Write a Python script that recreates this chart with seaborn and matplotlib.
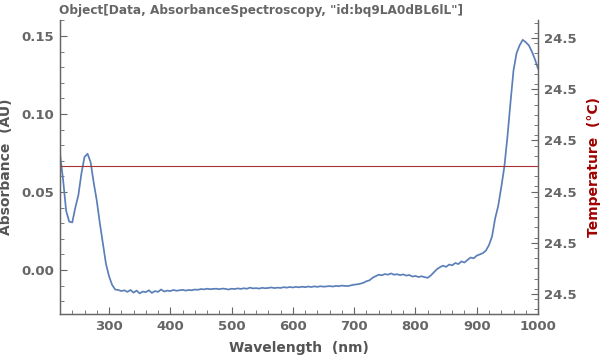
import numpy as np
import pandas as pd
import matplotlib
matplotlib.use("Agg")
import matplotlib.pyplot as plt
import seaborn as sns
from matplotlib.ticker import MultipleLocator, FixedLocator, FormatStrFormatter

wavelength = list(range(220, 1001, 5))
absorbance = [
    0.0745, 0.058, 0.038, 0.031, 0.0305, 0.040, 0.048, 0.062, 0.0725, 0.0745,
    0.069, 0.056, 0.0445, 0.030, 0.017, 0.004, -0.004, -0.0095, -0.0125, -0.0128,
    -0.0135, -0.0130, -0.0140, -0.0128, -0.0145, -0.0132, -0.0150, -0.0138, -0.0142, -0.0130,
    -0.0147, -0.0135, -0.0140, -0.0125, -0.0138, -0.0132, -0.0135, -0.0128, -0.0133, -0.0130,
    -0.0127, -0.0132, -0.0128, -0.0130, -0.0125, -0.0127, -0.0122, -0.0124, -0.0120, -0.0123,
    -0.0121, -0.0120, -0.0123, -0.0119, -0.0121, -0.0125, -0.0120, -0.0122, -0.0118, -0.0121,
    -0.0117, -0.0120, -0.0113, -0.0118, -0.0116, -0.0119, -0.0114, -0.0117, -0.0115, -0.0112,
    -0.0116, -0.0113, -0.0115, -0.0110, -0.0113, -0.0109, -0.0112, -0.0108, -0.0111, -0.0107,
    -0.0110, -0.0106, -0.0109, -0.0105, -0.0108, -0.0104, -0.0107, -0.0105, -0.0103, -0.0106,
    -0.0102, -0.0104, -0.0100, -0.0102, -0.0103, -0.0098, -0.0094, -0.0092, -0.0088, -0.0082,
    -0.0072, -0.0066, -0.0050, -0.0040, -0.0030, -0.0034, -0.0026, -0.0030, -0.0022, -0.0030,
    -0.0027, -0.0033, -0.0028, -0.0036, -0.0032, -0.0042, -0.0038, -0.0045, -0.0040, -0.0046,
    -0.0050, -0.0035, -0.0015, 0.0005, 0.0018, 0.0028, 0.0020, 0.0035, 0.0030, 0.0045,
    0.0038, 0.0055, 0.0048, 0.0065, 0.0080, 0.0075, 0.0092, 0.0100, 0.0108, 0.0125,
    0.0160, 0.0215, 0.0330, 0.0410, 0.0530, 0.0660, 0.0850, 0.1070, 0.1280, 0.1390,
    0.1440, 0.1475, 0.1460, 0.1440, 0.1400, 0.1350, 0.1290,
]
temp_wavelength = [220, 1000]
temperature = [24.5, 24.5]

title = 'Object[Data, AbsorbanceSpectroscopy, "id:bq9LA0dBL6lL"]'
x_label = "Wavelength  (nm)"
y_label = "Absorbance  (AU)"
y2_label = "Temperature  (°C)"
x_ticks = [300, 400, 500, 600, 700, 800, 900, 1000]
y_ticks = [0.00, 0.05, 0.10, 0.15]
y2_ticks = [24.49975, 24.49985, 24.49995, 24.50005, 24.50015, 24.50025]

sns.set_style("white")
plt.rcParams["font.family"] = ["DejaVu Sans"]

df = pd.DataFrame({"wl": wavelength, "abs": absorbance})
dft = pd.DataFrame({"wl": temp_wavelength, "t": temperature})

fig = plt.figure(figsize=(6.0, 3.58), dpi=100)
ax = fig.add_axes([0.1, 0.1229, 0.7967, 0.8211])
ax2 = ax.twinx()

sns.lineplot(data=df, x="wl", y="abs", ax=ax, color="#5B7FB8", linewidth=1.25)
sns.lineplot(data=dft, x="wl", y="t", ax=ax2, color="#A83232", linewidth=0.8)

ax.set_xlim(220, 1000)
ax.set_ylim(-0.0282, 0.1602)
ax2.set_ylim(24.499711, 24.500285)

tick_color = "#666666"
spine_color = "#666666"
for a in (ax, ax2):
    for s in a.spines.values():
        s.set_color(spine_color)
        s.set_linewidth(0.9)
    a.spines["top"].set_visible(False)

ax.xaxis.set_major_locator(FixedLocator(x_ticks))
ax.xaxis.set_minor_locator(MultipleLocator(20))
ax.yaxis.set_major_locator(FixedLocator(y_ticks))
ax.yaxis.set_minor_locator(MultipleLocator(0.01))
ax.yaxis.set_major_formatter(FormatStrFormatter("%.2f"))
ax2.yaxis.set_major_locator(FixedLocator(y2_ticks))
ax2.yaxis.set_minor_locator(MultipleLocator(0.00002))
ax2.yaxis.set_major_formatter(FormatStrFormatter("%.1f"))

ax.tick_params(axis="both", which="major", direction="in", length=5, width=0.8,
               color=spine_color, labelsize=9.5, labelcolor=tick_color, pad=4)
ax.tick_params(axis="both", which="minor", direction="in", length=3, width=0.6,
               color=spine_color)
ax.tick_params(axis="x", which="both", bottom=True, top=False)
ax.tick_params(axis="y", which="both", left=True, right=False)
ax2.tick_params(axis="y", which="major", direction="in", length=5, width=0.8,
                color=spine_color, labelsize=9.5, labelcolor=tick_color, pad=4, right=True)
ax2.tick_params(axis="y", which="minor", direction="in", length=3, width=0.6,
                color=spine_color, right=True)
for lab in ax.get_xticklabels() + ax.get_yticklabels() + ax2.get_yticklabels():
    lab.set_fontweight("bold")

ax.set_xlabel(x_label, fontsize=10, fontweight="bold", color="#555555", labelpad=6)
ax.set_ylabel(y_label, fontsize=10, fontweight="bold", color="#555555", labelpad=6)
ax2.set_ylabel(y2_label, fontsize=10, fontweight="bold", color="#A00000", labelpad=8)
fig.text(0.435, 0.972, title, ha="center", va="center", fontsize=8.7,
         fontweight="bold", color="#666666")

fig.savefig("out.png", dpi=100)
